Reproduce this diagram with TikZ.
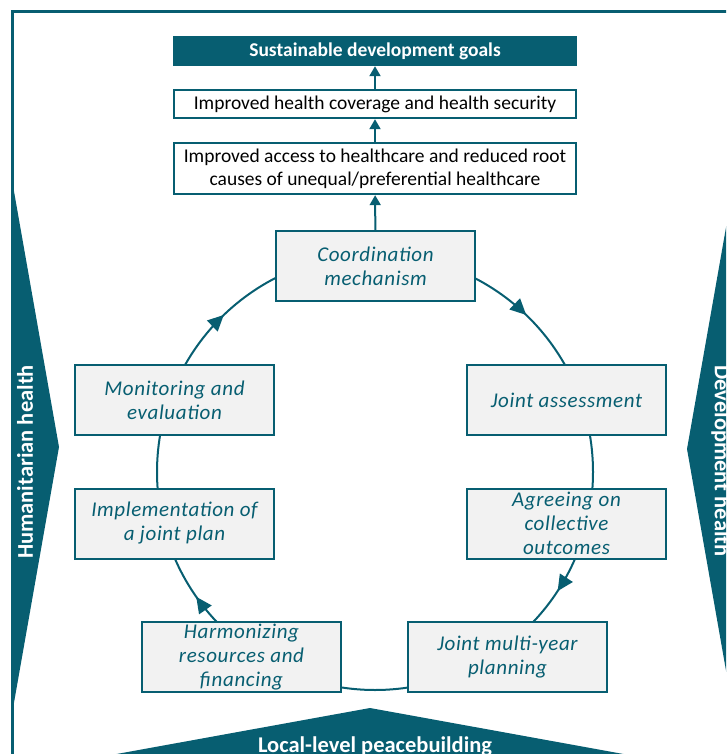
\documentclass[tikz,border=0pt]{standalone}
\usepackage{fontspec}
\setmainfont{Carlito}
\newfontfamily\cyclefont[LetterSpace=3]{Carlito}
\usetikzlibrary{positioning,arrows.meta,decorations.markings}
\definecolor{deepteal}{RGB}{7,94,113}
\definecolor{panelgray}{RGB}{242,242,242}

\begin{document}
\begin{tikzpicture}[x=1pt,y=-1pt,
    cyclebox/.style={draw=deepteal,line width=2pt,fill=panelgray,text=deepteal,
        minimum width=199pt,minimum height=70pt,inner ysep=0pt,align=center,
        font=\cyclefont\fontsize{21}{24}\selectfont\itshape},
    resultbox/.style={draw=deepteal,line width=2pt,fill=white,minimum width=402pt,
        inner ysep=0pt,align=center,font=\fontsize{19.5}{23}\selectfont},
    goalbox/.style={fill=deepteal,text=white,minimum width=404pt,minimum height=30pt,
        inner ysep=0pt,font=\fontsize{19.5}{20}\selectfont\bfseries},
    upflow/.style={draw=deepteal,line width=2pt,-{Triangle[length=10pt,width=11pt]}},
    ring/.style={color=deepteal,line width=2pt,postaction={decorate},
        decoration={markings,
            mark=at position 0.092 with {\arrow{Triangle[length=16pt,width=15pt]}},
            mark=at position 0.403 with {\arrow{Triangle[length=16pt,width=15pt]}},
            mark=at position 0.628 with {\arrow{Triangle[length=16pt,width=15pt]}},
            mark=at position 0.872 with {\arrow{Triangle[length=16pt,width=15pt]}}}},
    sidelabel/.style={text=white,font=\fontsize{22.5}{24}\selectfont\bfseries}]
\useasboundingbox (0,0) rectangle (726,754);
\clip (0,0) rectangle (726,754);
\draw [deepteal,line width=3pt] (12,770) -- (12,12) -- (740,12);

\fill [deepteal] (12,180) -- (59,447) -- (12,714) -- cycle;
\node [sidelabel,rotate=90] (human) at (25,462) {Humanitarian health};
\fill [deepteal] (734,182) -- (687,449) -- (734,716) -- cycle;
\node [sidelabel,rotate=-90] (devel) at (721,461) {Development health};
\fill [deepteal] (370,708) -- (56,765) -- (684,765) -- cycle;
\node [sidelabel] (local) at (375,747) {Local-level peacebuilding};

\coordinate (hub) at (375,472);
\draw [ring] (hub) circle [radius=218];

\node [cyclebox] (coord) at (375.5,266) {Coordination\\mechanism};
\node [cyclebox] (assess) at (566.5,400) {Joint assessment};
\node [cyclebox] (agree) at (566.5,523.5) {Agreeing on\\collective\\outcomes};
\node [cyclebox] (multiyear) at (507.5,657) {Joint multi-year\\planning};
\node [cyclebox] (harmon) at (241.5,657) {Harmonizing\\resources and\\financing};
\node [cyclebox] (implement) at (174.5,523.5) {Implementation of\\a joint plan};
\node [cyclebox] (monitor) at (174.5,400) {Monitoring and\\evaluation};

\node [goalbox] (sdg) at (375,51) {Sustainable development goals};
\node [resultbox,minimum height=28pt,below=23pt of sdg] (coverage)
    {Improved health coverage and health security};
\node [resultbox,minimum height=51pt,below=23pt of coverage] (access)
    {Improved access to healthcare and reduced root\\causes of unequal/preferential healthcare};

\draw (coverage) [upflow] -- (sdg);
\draw (access) [upflow] -- (coverage);
\draw (coord) [upflow] -- (access);
\end{tikzpicture}
\end{document}
